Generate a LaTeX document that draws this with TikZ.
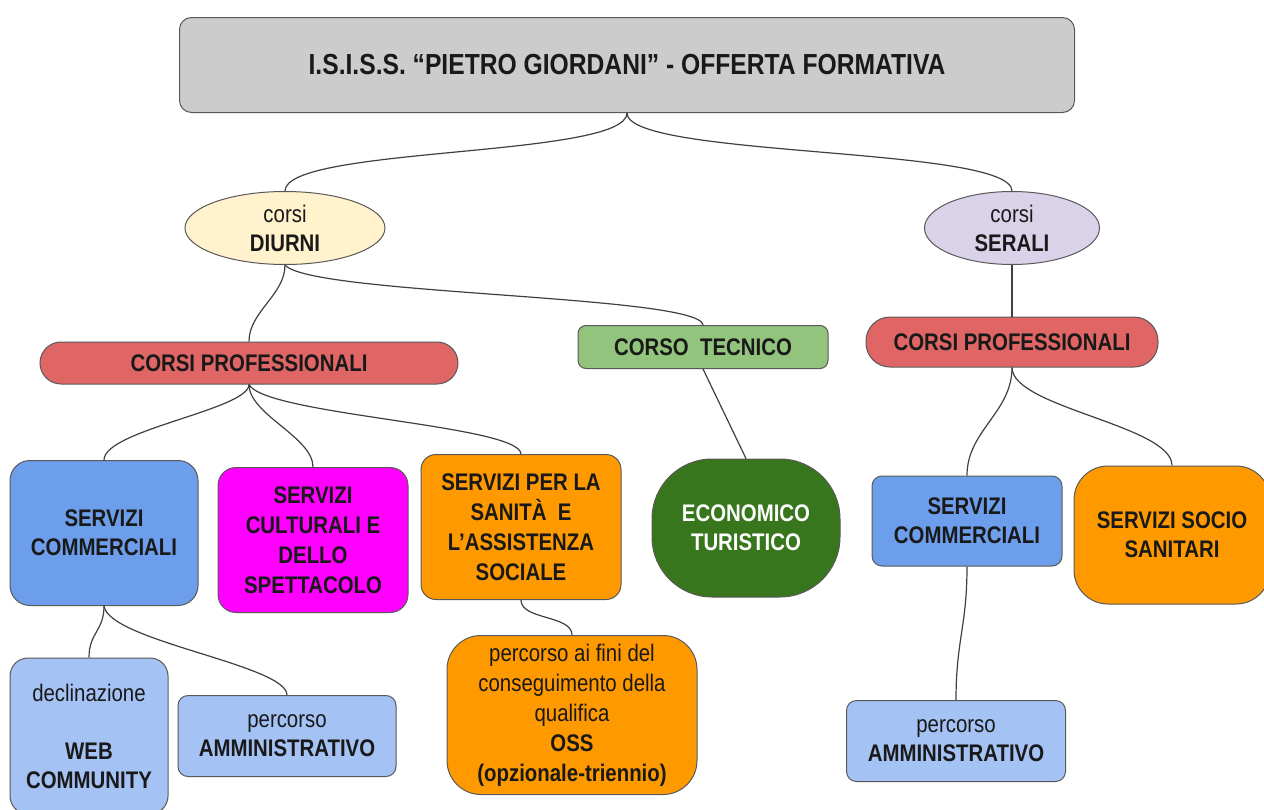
\documentclass[tikz,border=0pt]{standalone}
\usepackage{fontspec}
\setmainfont{Liberation Sans}[FakeStretch=0.85]
\usetikzlibrary{shapes.geometric}

\definecolor{titlegray}{HTML}{CCCCCC}
\definecolor{diurnicol}{HTML}{FFF2CC}
\definecolor{seralicol}{HTML}{D9D2E9}
\definecolor{profcol}{HTML}{E06666}
\definecolor{tecncol}{HTML}{93C47D}
\definecolor{commcol}{HTML}{6D9EEB}
\definecolor{lightcomm}{HTML}{A4C2F4}
\definecolor{orangecol}{HTML}{FF9900}
\definecolor{econcol}{HTML}{38761D}
\definecolor{cultcol}{HTML}{FF00FF}

\begin{document}
\begin{tikzpicture}[x=0.5pt,y=-0.5pt,
    box/.style={draw=black!65,line width=0.5pt,align=center,text=black!90,
      font=\fontsize{12}{14.5}\selectfont,inner sep=2pt},
    oval/.style={box,ellipse,inner sep=0pt,minimum height=36.5pt},
    link/.style={draw=black!75,line width=0.6pt}]
  \useasboundingbox (0,0) rectangle (1264,809);

  \node[box,fill=titlegray,rounded corners=6pt,minimum width=447.5pt,minimum height=47.5pt,
    font=\fontsize{14.5}{17}\selectfont\bfseries] (title) at (627,65)
    {I.S.I.S.S. “PIETRO GIORDANI” - OFFERTA FORMATIVA};

  \node[oval,fill=diurnicol,minimum width=100pt] (diurni) at (285,228) {corsi\\\textbf{DIURNI}};
  \node[oval,fill=seralicol,minimum width=87.5pt] (serali) at (1012,228) {corsi\\\textbf{SERALI}};

  \node[box,fill=profcol,rounded corners=10.5pt,minimum width=209pt,minimum height=21pt,
    font=\fontsize{12}{14.5}\selectfont\bfseries] (profD) at (249,363) {CORSI PROFESSIONALI};
  \node[box,fill=tecncol,rounded corners=4pt,minimum width=125pt,minimum height=21.5pt,
    font=\fontsize{12}{14.5}\selectfont\bfseries] (tecnico) at (703,347) {CORSO\ \ TECNICO};
  \node[box,fill=profcol,rounded corners=12pt,minimum width=146pt,minimum height=25pt,
    font=\fontsize{12}{14.5}\selectfont\bfseries] (profS) at (1012,342) {CORSI PROFESSIONALI};

  \node[box,fill=commcol,rounded corners=10pt,minimum width=94pt,minimum height=72.5pt,
    font=\fontsize{12}{14.5}\selectfont\bfseries] (commD) at (104,533) {SERVIZI\\COMMERCIALI};
  \node[box,fill=cultcol,rounded corners=9pt,minimum width=95pt,minimum height=72.5pt,
    font=\fontsize{12}{15}\selectfont\bfseries] (cultD) at (313,540)
    {SERVIZI\\CULTURALI E\\DELLO\\SPETTACOLO};
  \node[box,fill=orangecol,rounded corners=7.5pt,minimum width=100pt,minimum height=72.5pt,
    font=\fontsize{12}{15}\selectfont\bfseries] (sanitaD) at (521,527)
    {SERVIZI PER LA\\SANITÀ\ \ E\\L’ASSISTENZA\\SOCIALE};
  \node[box,fill=econcol,text=white,rounded corners=30pt,minimum width=94pt,minimum height=69pt,
    font=\fontsize{12}{14.5}\selectfont\bfseries] (econ) at (746,528) {ECONOMICO\\TURISTICO};
  \node[box,fill=commcol,rounded corners=5pt,minimum width=95pt,minimum height=45pt,
    font=\fontsize{12}{14.5}\selectfont\bfseries] (commS) at (967,521) {SERVIZI\\COMMERCIALI};
  \node[box,fill=orangecol,rounded corners=17pt,minimum width=98pt,minimum height=69pt,
    font=\fontsize{12}{14.5}\selectfont\bfseries] (socio) at (1172,535) {SERVIZI SOCIO\\SANITARI};

  \node[box,fill=lightcomm,rounded corners=9pt,minimum width=79pt,minimum height=78pt] (webD) at (89,736)
    {declinazione\\[14.5pt]\textbf{WEB}\\\textbf{COMMUNITY}};
  \node[box,fill=lightcomm,rounded corners=5pt,minimum width=109pt,minimum height=40.5pt] (ammD) at (287,736)
    {percorso\\\textbf{AMMINISTRATIVO}};
  \node[box,fill=orangecol,rounded corners=17pt,minimum width=125pt,minimum height=79.5pt,
    font=\fontsize{12}{15}\selectfont] (oss) at (572,715)
    {percorso ai fini del\\conseguimento della\\qualifica\\\textbf{OSS}\\\textbf{(opzionale-triennio)}};
  \node[box,fill=lightcomm,rounded corners=5pt,minimum width=109.5pt,minimum height=40.5pt] (ammS) at (956,741)
    {percorso\\\textbf{AMMINISTRATIVO}};

  % connectors
  \draw[link] (title.south) .. controls +(0,45) and +(0,-45) .. (diurni.north);
  \draw[link] (title.south) .. controls +(0,45) and +(0,-45) .. (serali.north);
  \draw[link] (diurni.south) .. controls +(0,30) and +(0,-30) .. (profD.north);
  \draw[link] (diurni.south) .. controls (310,295) and (700,295) .. (tecnico.north);
  \draw[link] (tecnico.south) -- (econ.north);
  \draw[link] (serali.south) -- (profS.north);
  \draw[link] (profD.south) .. controls +(0,25) and +(0,-30) .. (commD.north);
  \draw[link] (profD.south) .. controls +(0,30) and +(0,-30) .. (cultD.north);
  \draw[link] (profD.south) .. controls (265,415) and (520,425) .. (sanitaD.north);
  \draw[link] (profS.south) .. controls +(0,45) and +(0,-45) .. (commS.north);
  \draw[link] (profS.south) .. controls +(0,40) and +(0,-40) .. (socio.north);
  \draw[link] (commD.south) .. controls +(0,25) and +(0,-25) .. (webD.north);
  \draw[link] (commD.south) .. controls +(5,35) and +(0,-30) .. (ammD.north);
  \draw[link] (sanitaD.south) .. controls +(0,20) and +(0,-20) .. (oss.north);
  \draw[link] (commS.south) .. controls +(0,60) and +(0,-60) .. (ammS.north);
\end{tikzpicture}
\end{document}
